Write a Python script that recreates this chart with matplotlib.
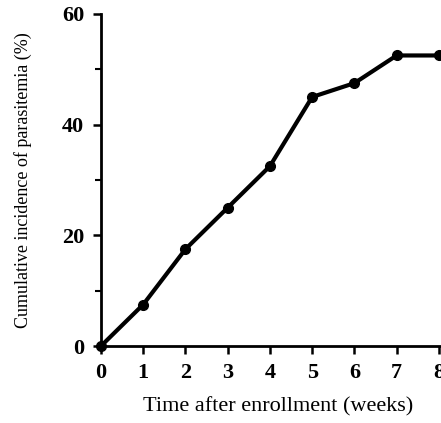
import matplotlib
matplotlib.use('Agg')
import matplotlib.pyplot as plt
from matplotlib.ticker import MultipleLocator

weeks = [0, 1, 2, 3, 4, 5, 6, 7, 8]
incidence = [0, 7.5, 17.5, 25, 32.5, 45, 47.5, 52.5, 52.5]

plt.rcParams['font.family'] = ['Liberation Serif', 'DejaVu Serif']

fig = plt.figure(figsize=(4.41, 4.23), dpi=100)
ax = fig.add_axes([0.229, 0.182, 0.771, 0.785])

ax.plot(weeks, incidence, color='black', linewidth=3, marker='o',
        markersize=7, clip_on=False, zorder=3)

ax.set_xlim(0, 8.05)
ax.set_ylim(0, 60)
ax.set_xticks(weeks)
ax.set_yticks([0, 20, 40, 60])
ax.yaxis.set_minor_locator(MultipleLocator(10))

for side in ['top', 'right']:
    ax.spines[side].set_visible(False)
for side in ['left', 'bottom']:
    ax.spines[side].set_linewidth(2)

ax.tick_params(axis='both', which='major', direction='out', length=6,
               width=1.8, labelsize=16, pad=6)
ax.tick_params(axis='y', which='minor', direction='out', length=4, width=1.5)
for lab in ax.get_xticklabels() + ax.get_yticklabels():
    lab.set_fontweight('bold')

ax.set_xlabel('Time after enrollment (weeks)', fontsize=16, labelpad=14)
ax.xaxis.set_label_coords(0.52, -0.155)
ax.set_ylabel('Cumulative incidence of parasitemia (%)', fontsize=13, labelpad=22)

fig.savefig('out.png', dpi=100)
